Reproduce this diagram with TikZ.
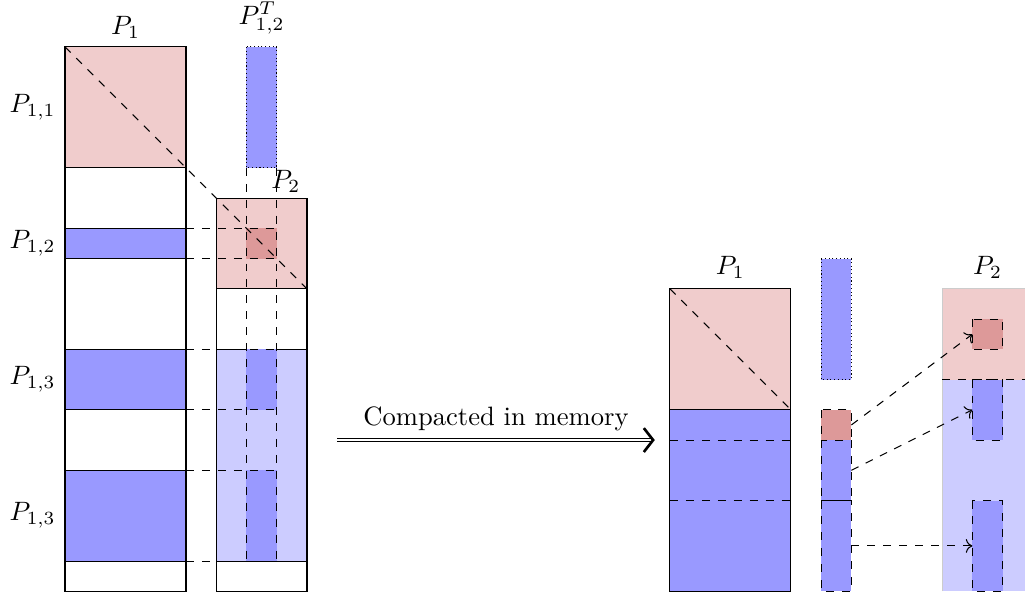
\documentclass[tikz,border=0pt]{standalone}
\usepackage{tikz}
\usetikzlibrary{arrows, arrows.meta, positioning}

\definecolor{lightpink}{RGB}{240,204,204}
\definecolor{darkpink}{RGB}{221,153,153}
\definecolor{midblue}{RGB}{153,153,255}
\definecolor{paleblue}{RGB}{204,204,255}

\begin{document}
\begin{tikzpicture}[x=0.4cm, y=-0.4cm,
        pinkblock/.style={fill=lightpink, draw},
        blueblock/.style={fill=midblue, draw},
        colblock/.style={fill=midblue, draw, densely dotted},
        moveblock/.style={draw, dashed}]
        \useasboundingbox (-2.15,-1.55) rectangle (31.74,18.08);

        % Links: P1 met de rijen
        \draw (0,0) rectangle (4,18);
        \draw[pinkblock] (0,0) rectangle (4,4);
        \draw[blueblock] (0,6) rectangle (4,7);
        \draw[blueblock] (0,10) rectangle (4,12);
        \draw[blueblock] (0,14) rectangle (4,17);

        % Links: P2 en de kolom P12^T
        \draw (5,5) rectangle (8,18);
        \draw[pinkblock] (5,5) rectangle (8,8);
        \draw[fill=paleblue] (5,10) rectangle (8,17);
        \fill[darkpink] (6,6) rectangle (7,7);
        \fill[midblue] (6,10) rectangle (7,12);
        \fill[midblue] (6,14) rectangle (7,17);
        \draw[colblock] (6,0) rectangle (7,4);

        % Stippellijnen
        \draw[dashed] (6,4) -- (6,17);
        \draw[dashed] (7,4) -- (7,17);
        \foreach \y in {6,7,10,12,14}
            \draw[dashed] (4,\y) -- (7,\y);
        \draw[dashed] (4,17) -- (5,17);
        \draw[dashed] (0,0) -- (8,8);

        % Labels links
        \node (p1) at (2,-0.65) {$P_1$};
        \node (p12t) at (6.5,-0.95) {$P_{1,2}^T$};
        \node (p2) at (7.3,4.45) {$P_2$};
        \node[left] (p11) at (0,2) {$P_{1,1}$};
        \node[left] (p12) at (0,6.5) {$P_{1,2}$};
        \node[left] (p13a) at (0,11) {$P_{1,3}$};
        \node[left] (p13b) at (0,15.5) {$P_{1,3}$};

        % Pijl
        \coordinate (cstart) at (9,13);
        \coordinate (cend) at (19.5,13);
        \draw[double, -{Straight Barb[length=3.5pt, width=9pt, line width=1pt]}] (cstart) -- node[above] (compact) {Compacted in memory} (cend);

        % Rechts: P1 gecompacteerd
        \draw[pinkblock] (20,8) rectangle (24,12);
        \draw[blueblock] (20,12) rectangle (24,18);
        \draw[dashed] (20,13) -- (24,13);
        \draw[dashed] (20,15) -- (24,15);
        \draw[dashed] (20,8) -- (24,12);

        % Rechts: kolom
        \draw[colblock] (25,7) rectangle (26,11);
        \draw[moveblock, fill=darkpink] (25,12) rectangle (26,13);
        \draw[moveblock, fill=midblue] (25,13) rectangle (26,15);
        \draw[moveblock, fill=midblue] (25,15) rectangle (26,18);

        % Rechts: P2
        \fill[lightpink] (29,8) rectangle (32,11);
        \fill[paleblue] (29,11) rectangle (32,18);
        \draw[gray!40] (29,18) -- (29,8) -- (32,8);
        \draw[dashed] (29,11) -- (32,11);
        \draw[moveblock, fill=darkpink] (30,9) rectangle (31,10);
        \draw[moveblock, fill=midblue] (30,11) rectangle (31,13);
        \draw[moveblock, fill=midblue] (30,15) rectangle (31,18);

        \node (q1) at (22,7.3) {$P_1$};
        \node (q2) at (30.5,7.3) {$P_2$};

        % Verplaatsingen
        \coordinate (srcA) at (26,12.5);
        \coordinate (dstA) at (30,9.5);
        \coordinate (srcB) at (26,14);
        \coordinate (dstB) at (30,12);
        \coordinate (srcC) at (26,16.5);
        \coordinate (dstC) at (30,16.5);
        \draw[dashed, ->] (srcA) -- (dstA);
        \draw[dashed, ->] (srcB) -- (dstB);
        \draw[dashed, ->] (srcC) -- (dstC);

    \end{tikzpicture}
\end{document}
